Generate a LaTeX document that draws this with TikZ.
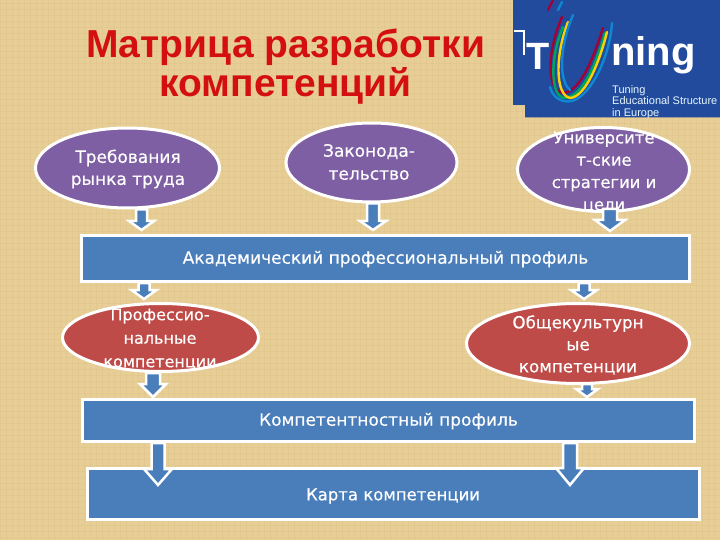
\documentclass[tikz,border=0pt]{standalone}
\usepackage{fontspec}
\setmainfont[BoldFont={DejaVu Sans},BoldFeatures={FakeBold=0.35}]{DejaVu Sans}
\newfontfamily\titlefont{Liberation Sans}
\usetikzlibrary{shapes.geometric,calc}
\definecolor{bgc}{HTML}{E7CE96}
\definecolor{bgl}{HTML}{D9B978}
\definecolor{vio}{HTML}{7F5FA3}
\definecolor{bluebox}{HTML}{4A7EBB}
\definecolor{redel}{HTML}{BE4B48}
\definecolor{logob}{HTML}{224B9E}
\definecolor{titlered}{HTML}{D40F0F}
\tikzset{
 x=1pt,y=-1pt,
 ell/.style={ellipse,draw=white,line width=3pt,inner sep=0pt},
 viol/.style={ell,fill=vio},
 redd/.style={ell,fill=redel},
 bar/.style={rectangle,draw=white,line width=3pt,fill=bluebox,inner sep=0pt},
 txt/.style={text=white,align=center,inner sep=0pt},
 blockarrow/.style n args={3}{draw=white,line width=2.5pt,fill=bluebox,line join=miter,
   to path={let \p1=(\tikztostart),\p2=(\tikztotarget) in
     (\x1-#1pt,\y1) -- (\x1+#1pt,\y1) -- (\x1+#1pt,\y2+#3pt) -- (\x1+#2pt,\y2+#3pt) -- (\x1,\y2) -- (\x1-#2pt,\y2+#3pt) -- (\x1-#1pt,\y2+#3pt) -- cycle}},
 curve/.style={line width=2.4pt,line cap=round}
}
\begin{document}
\begin{tikzpicture}
\useasboundingbox (0,0) rectangle (720,540);
\fill[bgc] (0,0) rectangle (720,540);
\foreach \i in {0,6,...,720}{\draw[bgl,line width=.8pt,opacity=.22] (\i,0) -- (\i,540);}
\foreach \i in {3,9,...,540}{\draw[bgl,line width=.8pt,opacity=.22] (0,\i) -- (720,\i);}
% logo
\fill[logob] (513,0) -- (720,0) -- (720,117.5) -- (525,117.5) -- (525,105) -- (513,105) -- cycle;
\draw[white,line width=2pt] (514,31) -- (524,31) -- (524,55);
\node[text=white,font=\titlefont\bfseries\fontsize{38}{38}\selectfont,inner sep=0pt] (logoT) at (538,56) {T};
\node[text=white,font=\titlefont\bfseries\fontsize{40}{40}\selectfont,anchor=west,inner sep=0pt] (logoN) at (611,55) {ning};
\node[text=white!90!cyan,font=\titlefont\fontsize{11}{11.5}\selectfont,anchor=north west,align=left,inner sep=0pt] (logoS) at (612,85) {Tuning\\Educational Structure\\in Europe};
\draw[curve,draw=purple!85!black] (553,0) -- (548,10);
\draw[curve,draw=cyan!70!blue] (562,2) -- (558,10);
\draw[curve,draw=purple!85!black] (562,17) .. controls (546,55) and (547,90) .. (563,93) .. controls (582,92) and (596,50) .. (603,28);
\draw[curve,draw=teal!70!green] (563,27) .. controls (549,60) and (551,96) .. (564,98) .. controls (584,97) and (597,60) .. (605,33);
\draw[curve,draw=yellow!70!orange] (568,22) .. controls (555,55) and (555,95) .. (570,98) .. controls (586,97) and (600,60) .. (607,32);
\draw[curve,draw=cyan!70!blue] (573,15) .. controls (560,45) and (558,80) .. (570,90);
\draw[curve,draw=cyan!70!blue] (550,87) .. controls (553,98) and (562,103) .. (572,101) .. controls (592,95) and (610,55) .. (612,23);
% title
\node[text=titlered,align=center,font=\titlefont\bfseries\fontsize{39}{39}\selectfont,inner sep=0pt] (title) at (285.5,67) {Матрица разработки\\компетенций};
% nodes
\node[viol,minimum width=184pt,minimum height=80pt] (req) at (127.5,168) {};
\node[txt,font=\bfseries\fontsize{17}{22}\selectfont] (reqt) at (128,169) {Требования\\рынка труда};
\node[viol,minimum width=171pt,minimum height=79pt] (law) at (371.5,162.5) {};
\node[txt,font=\bfseries\fontsize{17}{23}\selectfont] (lawt) at (369,162) {Законода-\\тельство};
\node[viol,minimum width=172pt,minimum height=84pt] (uni) at (603.5,169.5) {};
\node[txt,font=\bfseries\fontsize{16.4}{22.3}\selectfont] (unit) at (604,172) {Университе\\т-ские\\стратегии и\\цели};
\node[bar,minimum width=608pt,minimum height=46pt] (acad) at (385.5,258.5) {};
\node[txt,font=\bfseries\fontsize{17}{20}\selectfont] (acadt) at (385.5,259) {Академический профессиональный профиль};
\node[redd,minimum width=196pt,minimum height=68pt] (prof) at (160.5,337.5) {};
\node[txt,font=\bfseries\fontsize{16}{23.5}\selectfont] (proft) at (160,339) {Профессио-\\нальные\\компетенции};
\node[redd,minimum width=223pt,minimum height=80pt] (gen) at (578,343.5) {};
\node[txt,font=\bfseries\fontsize{16.7}{22}\selectfont] (gent) at (578,345) {Общекультурн\\ые\\компетенции};
\node[bar,minimum width=612pt,minimum height=42pt] (comp) at (388.5,420.5) {};
\node[txt,font=\bfseries\fontsize{17}{20}\selectfont] (compt) at (388.5,421) {Компетентностный профиль};
\node[bar,minimum width=612pt,minimum height=51pt] (map) at (393.5,494) {};
\node[txt,font=\bfseries\fontsize{16.5}{20}\selectfont] (mapt) at (393,496) {Карта компетенции};
% arrows
\coordinate (x1) at (141.5,0); \coordinate (x2) at (373,0); \coordinate (x3) at (610,0);
\coordinate (x4) at (144,0); \coordinate (x5) at (584,0); \coordinate (x6) at (153,0);
\coordinate (x7) at (587,0); \coordinate (x8) at (158,0); \coordinate (x9) at (570,0);
\coordinate (e8) at (158,485); \coordinate (e9) at (570,485);
\draw[blockarrow={5.5}{12.5}{9}] (req.south -| x1) to ([yshift=4pt]acad.north -| x1);
\draw[blockarrow={6}{13}{9}] (law.south -| x2) to ([yshift=4pt]acad.north -| x2);
\draw[blockarrow={7}{15}{11}] ([yshift=4pt]uni.south -| x3) to ([yshift=3pt]acad.north -| x3);
\draw[blockarrow={5.5}{12.5}{9}] (acad.south -| x4) to ([yshift=3pt]prof.north -| x4);
\draw[blockarrow={5.5}{13}{9}] (acad.south -| x5) to ([yshift=3pt]gen.north -| x5);
\draw[blockarrow={7}{13}{13}] (prof.south -| x6) to ([yshift=1pt]comp.north -| x6);
\draw[blockarrow={5}{11}{8}] ([yshift=1pt]gen.south -| x7) to ([yshift=1pt]comp.north -| x7);
\draw[blockarrow={6.5}{14}{16}] (comp.south -| x8) to (e8);
\draw[blockarrow={7}{14}{17}] (comp.south -| x9) to (e9);
\end{tikzpicture}
\end{document}
